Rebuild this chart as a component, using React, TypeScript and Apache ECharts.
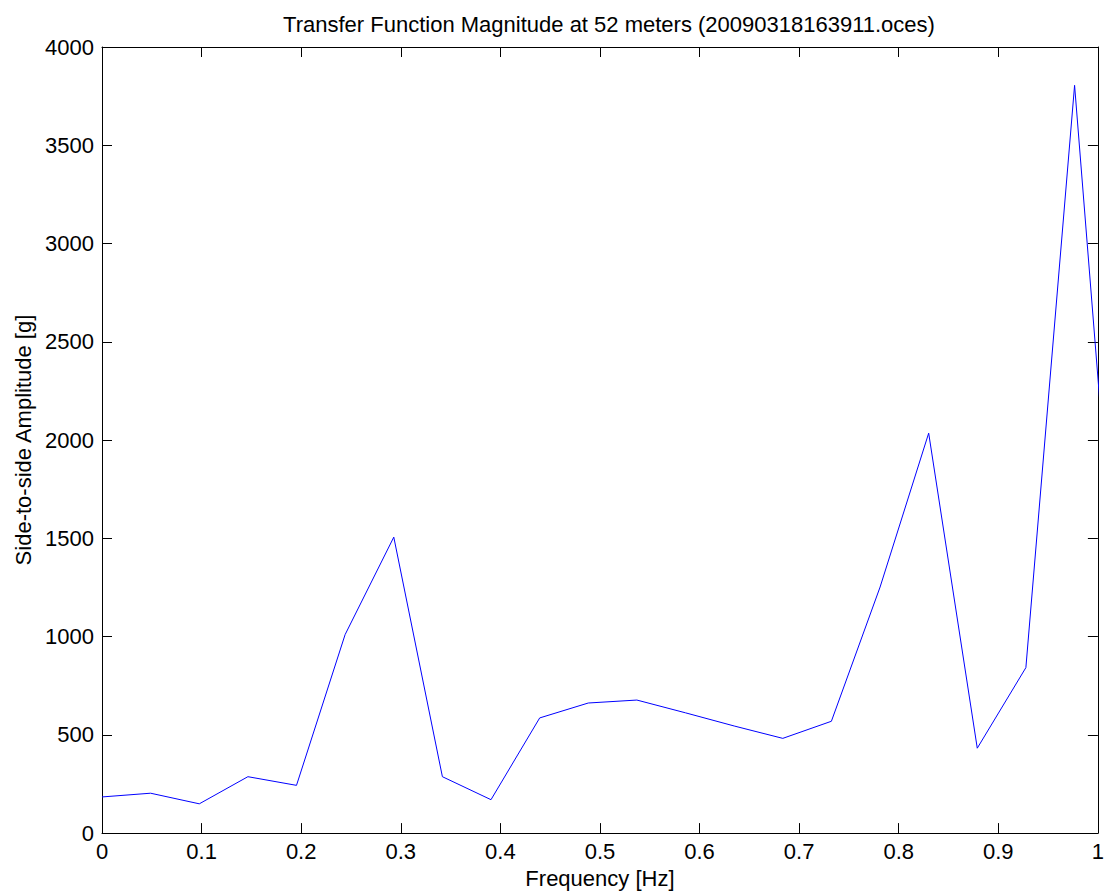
import React, { useEffect, useRef } from "react";
import * as echarts from "echarts";

const titleText = "Transfer Function Magnitude at 52 meters (20090318163911.oces)";
const xAxisName = "Frequency [Hz]";
const yAxisName = "Side-to-side Amplitude [g]";

const frequencies = [
  0, 0.0488, 0.0977, 0.1465, 0.1953, 0.2441, 0.293, 0.3418, 0.3906, 0.4395, 0.4883,
  0.5371, 0.5859, 0.6348, 0.6836, 0.7324, 0.7813, 0.8301, 0.8789, 0.9277, 0.9766, 1.0254,
];
const amplitudes = [
  184, 203, 149, 287, 243, 1010, 1506, 287, 170, 586, 662,
  677, 612, 545, 482, 569, 1252, 2035, 432, 842, 3805, 705,
];

const FONT = "'Liberation Sans', Arial, Helvetica, sans-serif";
const FS = 22;

export default function App() {
  const ref = useRef<HTMLDivElement>(null);
  useEffect(() => {
    if (!ref.current) return;
    const chart = echarts.init(ref.current, undefined, { renderer: "svg" });
    const mkLine = () => ({ show: true, onZero: false, lineStyle: { color: "#000", width: 1 } });
    const mkTick = () => ({ show: true, inside: true, length: 10, lineStyle: { color: "#000", width: 1 } });
    chart.setOption({
      animation: false,
      backgroundColor: "#fff",
      title: {
        text: titleText,
        left: 604,
        top: 8,
        textAlign: "center",
        textStyle: { fontSize: FS, fontWeight: "normal", color: "#000", fontFamily: FONT },
      },
      grid: { left: 102, right: 5, top: 47, bottom: 59, containLabel: false },
      xAxis: [
        {
          type: "value",
          min: 0,
          max: 1,
          interval: 0.1,
          position: "bottom",
          name: xAxisName,
          nameLocation: "middle",
          nameGap: 26,
          nameTextStyle: { fontSize: FS, color: "#000", fontFamily: FONT },
          axisLine: mkLine(),
          axisTick: mkTick(),
          splitLine: { show: false },
          axisLabel: { fontSize: FS, color: "#000", fontFamily: FONT, margin: 7 },
        },
        {
          type: "value",
          min: 0,
          max: 1,
          interval: 0.1,
          position: "top",
          axisLine: mkLine(),
          axisTick: mkTick(),
          splitLine: { show: false },
          axisLabel: { show: false },
        },
      ],
      yAxis: [
        {
          type: "value",
          min: 0,
          max: 4000,
          interval: 500,
          position: "left",
          name: yAxisName,
          nameLocation: "middle",
          nameGap: 64,
          nameTextStyle: { fontSize: FS, color: "#000", fontFamily: FONT },
          axisLine: mkLine(),
          axisTick: mkTick(),
          splitLine: { show: false },
          axisLabel: {
            fontSize: FS,
            color: "#000",
            fontFamily: FONT,
            margin: 8,
            formatter: (v: number) => String(v),
          },
        },
        {
          type: "value",
          min: 0,
          max: 4000,
          interval: 500,
          position: "right",
          axisLine: mkLine(),
          axisTick: mkTick(),
          splitLine: { show: false },
          axisLabel: { show: false },
        },
      ],
      series: [
        {
          type: "line",
          xAxisIndex: 0,
          yAxisIndex: 0,
          data: frequencies.map((f, i) => [f, amplitudes[i]]),
          showSymbol: false,
          clip: true,
          lineStyle: { color: "#0000ff", width: 1 },
          itemStyle: { color: "#0000ff" },
        },
      ],
    });
    return () => chart.dispose();
  }, []);
  return (
    <div
      ref={ref}
      style={{ position: "fixed", left: 0, top: 0, width: 1107, height: 894 }}
    />
  );
}
